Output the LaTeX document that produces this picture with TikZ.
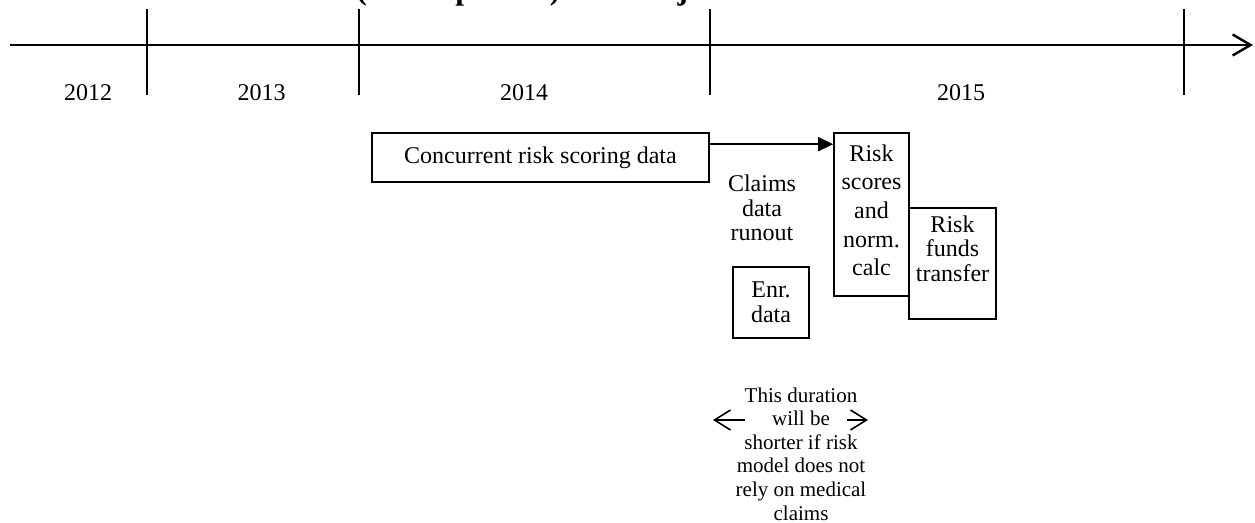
\documentclass[tikz,border=0pt]{standalone}
\usepackage{fontspec}
\setmainfont{Liberation Serif}
\usetikzlibrary{
    positioning,
    calc,
    arrows.meta
}

\tikzset{
    timeline/.style={line width=1.2pt, -{Straight Barb[length=9pt,width=10.5pt,line width=1.2pt]}},
    yeartick/.style={line width=1.1pt},
    yearlabel/.style={inner sep=0pt, font=\fontsize{12}{14}\selectfont},
    stagebox/.style={draw, line width=0.8pt, inner sep=0pt, align=center,
        font=\fontsize{12}{12.25}\selectfont},
    stagetext/.style={inner sep=0pt, align=center, font=\fontsize{12}{12.25}\selectfont},
    flow/.style={line width=0.8pt, -{Triangle[length=7.5pt,width=7pt]}},
    spanarrow/.style={line width=0.8pt, -{Straight Barb[length=8pt,width=10pt,line width=0.8pt]}}
}

\begin{document}
\begin{tikzpicture}[x=0.5pt, y=0.5pt]

    \useasboundingbox (0,0) rectangle (1255,-523);

    % title, only its lower edge shows
    \node[anchor=base west, inner sep=0pt, font=\fontsize{15.75}{18}\selectfont\bfseries]
        (title) at (66,0.5) {Chart 1: Concurrent (Retrospective) Risk Adjustment Timelines};

    % time axis
    \coordinate (axisstart) at (10,-45);
    \coordinate (axisend) at (1253,-45);
    \draw[timeline] (axisstart) -- (axisend);

    \foreach \x in {147, 359, 710, 1184}
        \draw[yeartick] (\x,-9) -- (\x,-95);

    \node[yearlabel] (y2012) at (88,-93) {2012};
    \node[yearlabel] (y2013) at (261.5,-93) {2013};
    \node[yearlabel] (y2014) at (524,-93) {2014};
    \node[yearlabel] (y2015) at (961,-93) {2015};

    % stages
    \node[stagebox, minimum width=168.5pt, minimum height=24.5pt]
        (concurrent) at (540.5,-157.5) {Concurrent risk scoring data};

    \node[stagebox, minimum width=37.5pt, minimum height=81.5pt]
        (riskcalc) at (871.5,-214.5) {};
    \node[stagetext, font=\fontsize{12}{14.3}\selectfont, below=6pt of riskcalc.north]
        (riskcalctext) {Risk\\scores\\and\\norm.\\calc};

    \node[stagebox, minimum width=43.5pt, minimum height=55.5pt]
        (funds) at (952.5,-263.5) {};
    \node[stagetext, below=4pt of funds.north]
        (fundstext) {Risk\\funds\\transfer};

    \node[stagetext] (runout) at (762,-208) {Claims\\data\\runout};

    \node[stagebox, minimum width=38pt, minimum height=35.5pt]
        (enrol) at (771,-302.5) {Enr.\\data};

    \draw[flow] ($(concurrent.north east)+(0,-12)$) -- ($(riskcalc.north west)+(0,-12)$);

    % note on the runout period
    \node[inner sep=0pt, align=center, font=\fontsize{10.5}{11.8}\selectfont]
        (note) at (801,-454) {This duration\\will be\\shorter if risk\\model does not\\rely on medical\\claims};

    \coordinate (spanleftfrom) at (745,-420);
    \coordinate (spanleftto) at (713,-420);
    \coordinate (spanrightfrom) at (847,-420);
    \coordinate (spanrightto) at (868,-420);
    \draw[spanarrow] (spanleftfrom) -- (spanleftto);
    \draw[spanarrow] (spanrightfrom) -- (spanrightto);

\end{tikzpicture}
\end{document}
